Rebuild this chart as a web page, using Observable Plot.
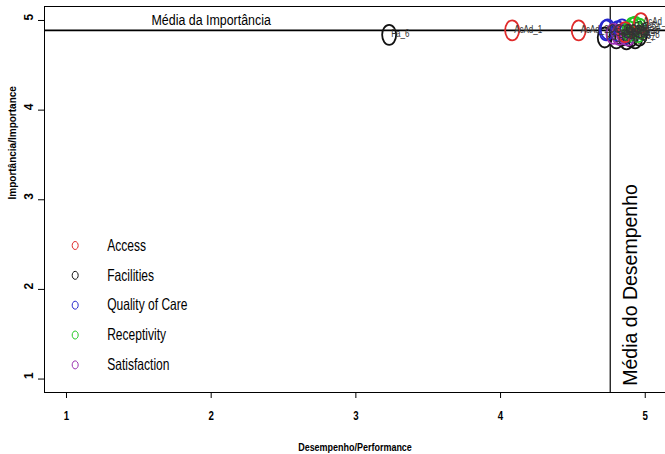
<!DOCTYPE html>
<html><head><meta charset="utf-8">
<script src="https://cdn.jsdelivr.net/npm/d3@7"></script>
<script src="https://cdn.jsdelivr.net/npm/@observablehq/plot@0.6"></script>
<style>body{margin:0;background:#fff} svg{display:block}</style>
</head><body><div id="chart"></div>
<script>
// ---- data ----
const categories = ["Access", "Facilities", "Quality of Care", "Receptivity", "Satisfaction"];
const categoryColors = ["#E02A2A", "#111111", "#2626CC", "#22C822", "#9A2FB0"];

const accessPerf = [4.08, 4.54, 4.86, 4.97];
const accessImp = [4.89, 4.89, 4.87, 4.97];
const accessLabels = ["AcAd_1", "AcAd_2", "AcAd_3", "AcAd_4"];

const facilitiesPerf = [3.23, 4.72, 4.80, 4.84, 4.87, 4.90, 4.93, 4.96];
const facilitiesImp = [4.84, 4.81, 4.80, 4.83, 4.79, 4.82, 4.80, 4.83];
const facilitiesLabels = ["Fa_6", "Fa_1", "Fa_2", "Fa_3", "Fa_4", "Fa_5", "Fa_7", "Fa_8"];

const qualityPerf = [4.73, 4.74, 4.81, 4.84, 4.87];
const qualityImp = [4.89, 4.90, 4.88, 4.90, 4.86];
const qualityLabels = ["QC_1", "QC_2", "QC_3", "QC_4", "QC_5"];

const receptivityPerf = [4.89, 4.91, 4.93, 4.96, 4.95];
const receptivityImp = [4.88, 4.92, 4.93, 4.91, 4.87];
const receptivityLabels = ["Re_1", "Re_2", "Re_3", "Re_4", "Re_5"];

const satisfactionPerf = [4.78, 4.82, 4.85, 4.88];
const satisfactionImp = [4.85, 4.84, 4.86, 4.83];
const satisfactionLabels = ["Sa_1", "Sa_2", "Sa_3", "Sa_4"];

const meanImportance = 4.89;
const meanPerformance = 4.758;
const xTicks = [1, 2, 3, 4, 5];
const yTicks = [1, 2, 3, 4, 5];
const xTitle = "Desempenho/Performance";
const yTitle = "Importância/Importance";
const hLineLabel = "Média da Importância";
const vLineLabel = "Média do Desempenho";

// ---- build table ----
const series = [
  ["Facilities", facilitiesPerf, facilitiesImp, facilitiesLabels],
  ["Quality of Care", qualityPerf, qualityImp, qualityLabels],
  ["Satisfaction", satisfactionPerf, satisfactionImp, satisfactionLabels],
  ["Receptivity", receptivityPerf, receptivityImp, receptivityLabels],
  ["Access", accessPerf, accessImp, accessLabels]
];
const points = series.flatMap(([cat, px, py, lab]) => px.map((v, i) => ({cat, perf: v, imp: py[i], label: lab[i]})));

const xDomain = [0.848, 5.14];
const yDomain = [0.85, 5.156];

const ellipse = (rx, ry) => ({
  draw(ctx) {
    const k = 0.5523;
    ctx.moveTo(rx, 0);
    ctx.bezierCurveTo(rx, ry * k, rx * k, ry, 0, ry);
    ctx.bezierCurveTo(-rx * k, ry, -rx, ry * k, -rx, 0);
    ctx.bezierCurveTo(-rx, -ry * k, -rx * k, -ry, 0, -ry);
    ctx.bezierCurveTo(rx * k, -ry, rx, -ry * k, rx, 0);
    ctx.closePath();
  }
});

const legendTop = 2.49, legendStep = 0.333;
const legendRows = categories.map((c, i) => ({cat: c, y: legendTop - i * legendStep}));

const font = "'Liberation Sans', Arial, sans-serif";

const chart = Plot.plot({
  width: 665, height: 454,
  marginLeft: 44, marginRight: 0, marginTop: 6, marginBottom: 62,
  style: {fontFamily: font, background: "#fff", color: "#000"},
  x: {domain: xDomain, ticks: xTicks, tickSize: 6, tickFormat: () => "", label: null},
  y: {domain: yDomain, ticks: yTicks, tickSize: 6, tickFormat: () => "", label: null},
  color: {domain: categories, range: categoryColors},
  marks: [
    Plot.ruleY([yDomain[0], yDomain[1]], {stroke: "#000", strokeWidth: 1}),
    Plot.ruleX([xDomain[0]], {stroke: "#000", strokeWidth: 1}),
    Plot.ruleY([meanImportance], {stroke: "#000", strokeWidth: 1.6}),
    Plot.ruleX([meanPerformance], {stroke: "#000", strokeWidth: 1.2}),
    Plot.text([hLineLabel], {x: 2.0, y: meanImportance, text: d => d, dy: -10, fontSize: 15.5, fill: "#000"}),
    Plot.text([vLineLabel], {x: meanPerformance, y: 2.05, text: d => d, dx: 21, rotate: -90, fontSize: 19.5, fill: "#000"}),
    Plot.dot(points, {x: "perf", y: "imp", stroke: "cat", symbol: ellipse(7, 10), r: 5, strokeWidth: 1.8, fill: "none"}),
    Plot.text(points, {x: "perf", y: "imp", text: "label", dx: 2, dy: -1, textAnchor: "start", fontSize: 10, fill: "#333"}),
    Plot.dot(legendRows, {x: 1.06, y: "y", stroke: "cat", symbol: ellipse(3, 4), r: 3, strokeWidth: 1, fill: "none"}),
    Plot.text(legendRows, {x: 1.06, y: "y", text: "cat", dx: 32, textAnchor: "start", fontSize: 16.5, fill: "#000"}),
    Plot.text(xTicks, {x: d => d, frameAnchor: "bottom", dy: 27, text: d => String(d), fontSize: 12, fontWeight: "bold", fill: "#000"}),
    Plot.text(yTicks, {y: d => d, frameAnchor: "left", dx: -15, rotate: -90, text: d => String(d), fontSize: 12, fontWeight: "bold", fill: "#000"}),
    Plot.text([xTitle], {frameAnchor: "bottom", dy: 58, text: d => d, fontSize: 11.5, fontWeight: "bold", fill: "#000"}),
    Plot.text([yTitle], {frameAnchor: "left", dx: -32, rotate: -90, text: d => d, fontSize: 10, fontWeight: "bold", fill: "#000"})
  ]
});
document.getElementById("chart").appendChild(chart);

// the reference image is horizontally squeezed: condense horizontal texts
chart.querySelectorAll("text").forEach(t => {
  const tr = t.getAttribute("transform") || "";
  if (tr.includes("rotate")) return;
  if (!t.textContent) return;
  const fs = parseFloat(getComputedStyle(t).fontSize);
  const f = fs >= 16 ? 0.73 : (fs >= 11.5 && fs < 12.5 && t.textContent.length > 3 ? 0.78 : 0.8);
  const w = t.getComputedTextLength();
  if (w > 0) {
    t.setAttribute("textLength", (w * f).toFixed(1));
    t.setAttribute("lengthAdjust", "spacingAndGlyphs");
  }
});
</script>
</body></html>
